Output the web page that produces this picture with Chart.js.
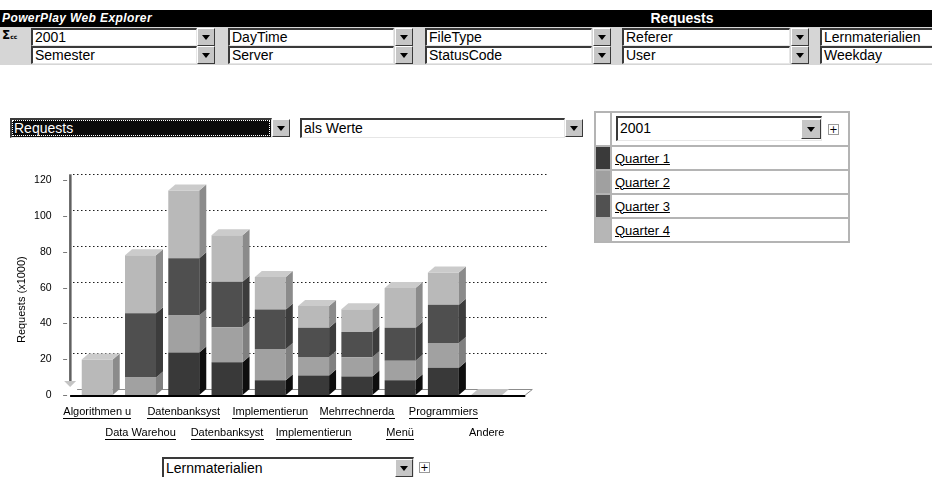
<!DOCTYPE html>
<html>
<head>
<meta charset="utf-8">
<title>PowerPlay Web Explorer – Requests</title>
<script src="https://cdn.jsdelivr.net/npm/chart.js@4/dist/chart.umd.min.js"></script>
<style>
  html, body { margin: 0; padding: 0; background: #fff; }
  body { width: 932px; height: 477px; position: relative; overflow: hidden;
         font-family: "Liberation Sans", Arial, sans-serif; color: #000; }
  .abs { position: absolute; }
  #titlebar { left: 0; top: 10px; width: 932px; height: 17px; background: #000; color: #fff; }
  #titlebar .app { position: absolute; left: 2px; top: 1px; font: bold italic 12px "Liberation Sans", Arial, sans-serif; letter-spacing: 0.4px; }
  #titlebar .measure { position: absolute; left: 650px; width: 64px; top: 0px; text-align: center; font: bold 14px "Liberation Sans", Arial, sans-serif; }
  #dimbar { left: 0; top: 27px; width: 932px; height: 38px; background: #d6d6d6; }
  .sigma { left: 2px; top: 28px; font: bold 12px "DejaVu Sans", sans-serif; }
  .sigma small { font-size: 6px; }
  .dd { position: absolute; box-sizing: border-box; background: #fff; white-space: nowrap; overflow: hidden;
        border-top: 2px solid #3a3a3a; border-left: 2px solid #3a3a3a;
        border-right: 1px solid #e6e6e6; border-bottom: 1px solid #e6e6e6;
        font-size: 14px; padding-left: 2px; }
  .btn { position: absolute; box-sizing: border-box; background: #c6c6c6;
         border: 1px solid; border-color: #fff #3a3a3a #3a3a3a #fff; }
  .btn::after { content: ""; position: absolute; left: 50%; top: 50%; margin-left: -4px; margin-top: -2px;
                border-left: 4px solid transparent; border-right: 4px solid transparent; border-top: 5px solid #000; }
  .plus { position: absolute; box-sizing: border-box; width: 11px; height: 11px; border: 1px solid #9a9a9a;
          background: #fff; font: 10px/9px "DejaVu Sans", sans-serif; text-align: center; }
  .sel { background: #0a0a0a; color: #fff; outline: 1px dotted #fff; outline-offset: -3px; }
  #legendTable { position: absolute; left: 594px; top: 111px; border-collapse: collapse; }
  #legendTable td { border: 2px solid #b4b4b4; padding: 0; }
  #legendTable td.sw { width: 14px; }
  #legendTable td.lab { width: 233px; height: 22px; font-size: 13px; padding-left: 3px; }
  #legendTable td.lab span { text-decoration: underline; }
  #chartBox { position: absolute; left: 0; top: 150px; width: 570px; height: 300px; }
</style>
</head>
<body>

<div id="titlebar" class="abs">
  <div class="app">PowerPlay Web Explorer</div>
  <div class="measure">Requests</div>
</div>
<div id="dimbar" class="abs"></div>
<div class="abs sigma">Σ<small>cc</small></div>

<!-- dimension line, row 1 -->
<div class="dd" style="left:31px;top:28px;width:166px;height:18px;line-height:15px;">2001</div>
<div class="btn" style="left:197px;top:28px;width:18px;height:18px;"></div>
<div class="dd" style="left:228px;top:28px;width:166px;height:18px;line-height:15px;">DayTime</div>
<div class="btn" style="left:395px;top:28px;width:18px;height:18px;"></div>
<div class="dd" style="left:425px;top:28px;width:167px;height:18px;line-height:15px;">FileType</div>
<div class="btn" style="left:593px;top:28px;width:18px;height:18px;"></div>
<div class="dd" style="left:622px;top:28px;width:168px;height:18px;line-height:15px;">Referer</div>
<div class="btn" style="left:791px;top:28px;width:18px;height:18px;"></div>
<div class="dd" style="left:820px;top:28px;width:130px;height:18px;line-height:15px;">Lernmaterialien</div>

<!-- dimension line, row 2 -->
<div class="dd" style="left:31px;top:46px;width:166px;height:18px;line-height:15px;">Semester</div>
<div class="btn" style="left:197px;top:46px;width:18px;height:18px;"></div>
<div class="dd" style="left:228px;top:46px;width:166px;height:18px;line-height:15px;">Server</div>
<div class="btn" style="left:395px;top:46px;width:18px;height:18px;"></div>
<div class="dd" style="left:425px;top:46px;width:167px;height:18px;line-height:15px;">StatusCode</div>
<div class="btn" style="left:593px;top:46px;width:18px;height:18px;"></div>
<div class="dd" style="left:622px;top:46px;width:168px;height:18px;line-height:15px;">User</div>
<div class="btn" style="left:791px;top:46px;width:18px;height:18px;"></div>
<div class="dd" style="left:820px;top:46px;width:130px;height:18px;line-height:15px;">Weekday</div>

<!-- measure / display selectors -->
<div class="dd sel" style="left:10px;top:118px;width:262px;height:20px;line-height:17px;">Requests</div>
<div class="btn" style="left:272px;top:119px;width:18px;height:18px;"></div>
<div class="dd" style="left:300px;top:118px;width:265px;height:20px;line-height:17px;">als Werte</div>
<div class="btn" style="left:565px;top:119px;width:18px;height:18px;"></div>

<!-- series legend -->
<table id="legendTable">
  <tr>
    <td class="sw" style="background:#fff;height:32px;"></td>
    <td class="lab" style="height:32px;position:relative;">
      <div class="dd" style="left:4px;top:3px;width:206px;height:25px;line-height:21px;">2001</div>
      <div class="btn" style="left:189px;top:6px;width:20px;height:20px;"></div>
      <div class="plus" style="left:216px;top:11px;">+</div>
    </td>
  </tr>
  <tr><td class="sw" id="sw0"></td><td class="lab"><span id="lg0"></span></td></tr>
  <tr><td class="sw" id="sw1"></td><td class="lab"><span id="lg1"></span></td></tr>
  <tr><td class="sw" id="sw2"></td><td class="lab"><span id="lg2"></span></td></tr>
  <tr><td class="sw" id="sw3"></td><td class="lab"><span id="lg3"></span></td></tr>
</table>

<div id="chartBox"><canvas id="chart" width="570" height="300"></canvas></div>

<!-- category dimension selector -->
<div class="dd" style="left:162px;top:457px;width:252px;height:22px;line-height:19px;">Lernmaterialien</div>
<div class="btn" style="left:395px;top:459px;width:18px;height:18px;"></div>
<div class="plus" style="left:419px;top:462px;">+</div>

<script>
// Courses (Lernmaterialien) on the category axis
const categories = ['Algorithmen u', 'Data Warehou', 'Datenbanksyst', 'Datenbanksyst',
  'Implementierun', 'Implementierun', 'Mehrrechnerda', 'Menü', 'Programmiers', 'Andere'];
const plainLabel = 'Andere';   // the only category without a drill-down link

// Requests (x1000) per quarter of 2001
const seriesNames = ['Quarter 1', 'Quarter 2', 'Quarter 3', 'Quarter 4'];
const quarter1 = [0, 0, 23.7, 18.3, 8.3, 10.9, 10.4, 8.3, 15.2, 0];
const quarter2 = [0, 9.8, 20.7, 19.6, 17.4, 10.4, 10.7, 10.8, 13.9, 0];
const quarter3 = [0, 35.9, 32.1, 25.4, 22.1, 16.3, 14.1, 18.5, 21.3, 0];
const quarter4 = [19.8, 32.4, 37.8, 26.0, 18.1, 12.2, 12.7, 22.2, 18.1, 0];

const yTicks = [0, 20, 40, 60, 80, 100, 120];
const yTitle = 'Requests (x1000)';

// shading of the three visible faces of each block
const frontColors = ['#393939', '#a1a1a1', '#4f4f4f', '#b9b9b9'];
const sideColors  = ['#0e0e0e', '#808080', '#3c3c3c', '#8b8b8b'];
const topColors   = ['#5c5c5c', '#bcbcbc', '#6a6a6a', '#cbcbcb'];
const legendSwatches = ['#3a3a3a', '#a0a0a0', '#515151', '#b6b6b6'];

seriesNames.forEach((n, i) => {
  document.getElementById('lg' + i).textContent = n;
  document.getElementById('sw' + i).style.background = legendSwatches[i];
});

const FONT = '"Liberation Sans", Arial, sans-serif';
Chart.defaults.font.family = FONT;
Chart.defaults.color = '#000';

const DX = 7, DY = 6;         // depth of the pseudo-3D blocks
const ROW_H = 21, LABEL_PAD = 6.5;

const scene3d = {
  id: 'scene3d',
  beforeDatasetsDraw(chart) {
    const { ctx, chartArea: a, scales: { y } } = chart;
    const y0 = y.getPixelForValue(0);
    const axisX = a.left - 5.5;
    const floorEnd = a.right + 17;
    ctx.save();
    // dotted grid on the back wall
    ctx.fillStyle = '#1e1e1e';
    yTicks.forEach(v => {
      if (v === 0) return;
      const py = Math.round(y.getPixelForValue(v) - DY);
      for (let x = axisX + 3; x < a.right + 37; x += 4) ctx.fillRect(Math.round(x), py, 1.5, 1);
    });
    // floor slab
    ctx.beginPath();
    ctx.moveTo(axisX, y0);
    ctx.lineTo(floorEnd, y0);
    ctx.lineTo(floorEnd + DX, y0 - DY);
    ctx.lineTo(axisX + DX, y0 - DY);
    ctx.closePath();
    ctx.fillStyle = '#fff';
    ctx.fill();
    ctx.strokeStyle = '#8c8c8c';
    ctx.lineWidth = 1;
    ctx.beginPath();
    ctx.moveTo(axisX + DX, y0 - DY + 0.5);
    ctx.lineTo(floorEnd + DX, y0 - DY + 0.5);
    ctx.lineTo(floorEnd, y0);
    ctx.stroke();
    // value axis wall edge
    const topPx = y.getPixelForValue(yTicks[yTicks.length - 1]) - DY;
    ctx.fillStyle = '#606060';
    ctx.fillRect(axisX - 1, topPx, 2.5, y0 - 14 - topPx);
    ctx.fillStyle = '#c4c4c4';
    ctx.beginPath();
    ctx.moveTo(axisX - 6, y0 - 14);
    ctx.lineTo(axisX + 6, y0 - 14);
    ctx.lineTo(axisX, y0 - 8);
    ctx.closePath();
    ctx.fill();
    // tick marks
    ctx.strokeStyle = '#7a7a7a';
    yTicks.forEach(v => {
      const py = Math.round(y.getPixelForValue(v)) + 0.5;
      ctx.beginPath();
      ctx.moveTo(axisX - 7, py);
      ctx.lineTo(axisX - 3, py);
      ctx.stroke();
    });
    ctx.restore();
  },
  afterDatasetsDraw(chart) {
    const { ctx, chartArea: a, scales: { y } } = chart;
    const y0 = y.getPixelForValue(0);
    const nDs = chart.data.datasets.length;
    ctx.save();
    categories.forEach((c, i) => {
      let topIdx = -1, topEl = null;
      for (let d = 0; d < nDs; d++) {
        const v = chart.data.datasets[d].data[i];
        const el = chart.getDatasetMeta(d).data[i];
        if (!v) continue;
        const right = el.x + el.width / 2;
        const yT = Math.min(el.y, el.base), yB = Math.max(el.y, el.base);
        ctx.fillStyle = sideColors[d];
        ctx.beginPath();
        ctx.moveTo(right, yB);
        ctx.lineTo(right + DX, yB - DY);
        ctx.lineTo(right + DX, yT - DY);
        ctx.lineTo(right, yT);
        ctx.closePath();
        ctx.fill();
        topIdx = d; topEl = el;
      }
      const el = topEl || chart.getDatasetMeta(0).data[i];
      const left = el.x - el.width / 2, right = el.x + el.width / 2;
      const yT = topEl ? Math.min(el.y, el.base) : y0;
      ctx.fillStyle = topEl ? topColors[topIdx] : '#c2c2c2';
      ctx.beginPath();
      ctx.moveTo(left, yT);
      ctx.lineTo(left + DX, yT - DY);
      ctx.lineTo(right + DX, yT - DY);
      ctx.lineTo(right, yT);
      ctx.closePath();
      ctx.fill();
    });
    // front edge of the floor
    ctx.fillStyle = '#000';
    ctx.fillRect(a.left - 5.5, y0, a.right + 17 - (a.left - 5.5), 2);
    ctx.restore();
  },
  afterDraw(chart) {
    const { ctx, chartArea: a, scales: { x } } = chart;
    ctx.save();
    // axis title
    ctx.font = '11px ' + FONT;
    ctx.fillStyle = '#000';
    ctx.textAlign = 'center';
    ctx.textBaseline = 'middle';
    ctx.translate(22, (a.top + a.bottom) / 2 + 12);
    ctx.rotate(-Math.PI / 2);
    ctx.fillText(yTitle, 0, 0);
    ctx.restore();
    // link underlines below the category labels
    ctx.save();
    ctx.font = '11px ' + FONT;
    ctx.fillStyle = '#000';
    categories.forEach((c, i) => {
      if (c === plainLabel) return;
      const w = ctx.measureText(c).width;
      const cx = x.getPixelForTick(i);
      const cy = a.bottom + LABEL_PAD + ROW_H / 2 + (i % 2) * ROW_H + 6;
      ctx.fillRect(Math.round(cx - w / 2), Math.round(cy), Math.round(w), 1);
    });
    ctx.restore();
  }
};

const seriesData = [quarter1, quarter2, quarter3, quarter4];

new Chart(document.getElementById('chart'), {
  type: 'bar',
  data: {
    labels: categories.map((c, i) => (i % 2 === 0 ? [c, ''] : ['', c])),
    datasets: seriesNames.map((name, d) => ({
      label: name,
      data: seriesData[d],
      backgroundColor: frontColors[d],
      borderWidth: 0,
      barPercentage: 0.716,
      categoryPercentage: 1
    }))
  },
  options: {
    responsive: false,
    animation: false,
    devicePixelRatio: 1,
    layout: { padding: { left: 0, right: 61.7, top: 29.6, bottom: 0 } },
    plugins: { legend: { display: false }, tooltip: { enabled: false } },
    scales: {
      x: {
        stacked: true,
        grid: { display: false, drawTicks: false },
        border: { display: false },
        ticks: { autoSkip: false, maxRotation: 0, minRotation: 0, padding: LABEL_PAD,
                 color: '#000', font: { size: 11, lineHeight: ROW_H + 'px' } },
        afterFit(scale) { scale.height = 55; }
      },
      y: {
        stacked: true,
        min: 0,
        max: 120,
        grid: { display: false, drawTicks: false },
        border: { display: false },
        ticks: { padding: 24, color: '#000', font: { size: 10.5 } },
        afterBuildTicks(scale) { scale.ticks = yTicks.map(v => ({ value: v })); },
        afterFit(scale) { scale.width = 75.6; }
      }
    }
  },
  plugins: [scene3d]
});
</script>
</body>
</html>
